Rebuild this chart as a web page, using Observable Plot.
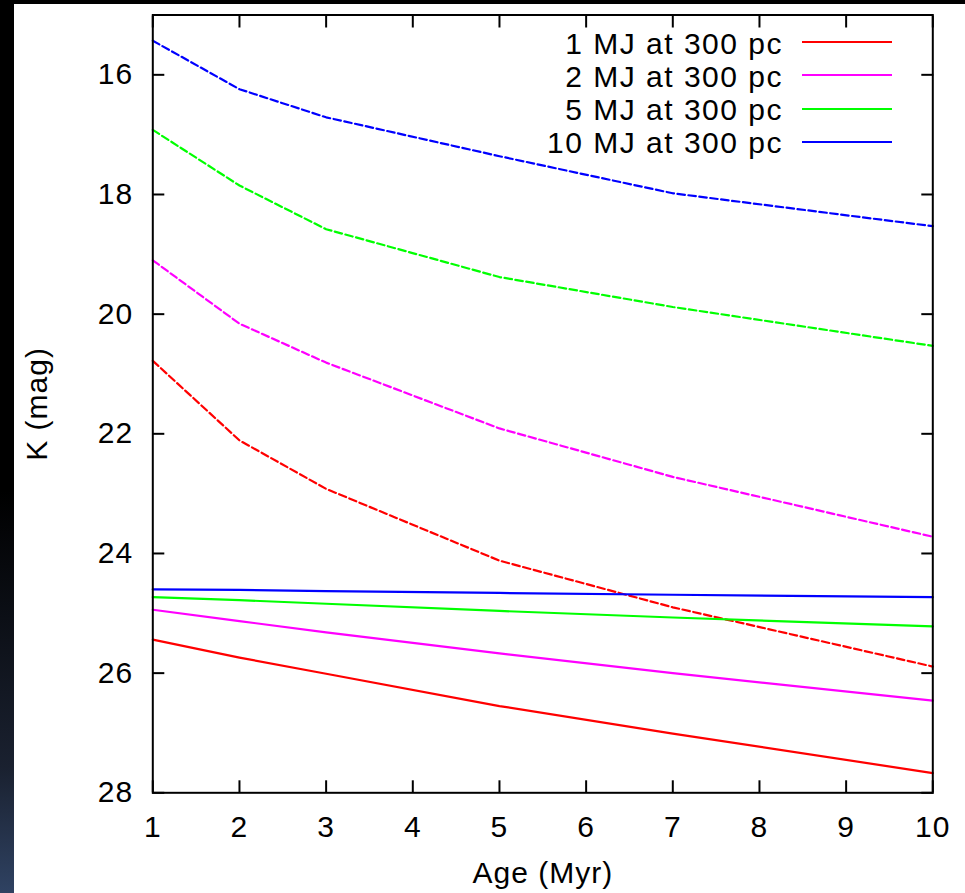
<!DOCTYPE html>
<html>
<head>
<meta charset="utf-8">
<script src="https://cdn.jsdelivr.net/npm/d3@7"></script>
<script src="https://cdn.jsdelivr.net/npm/@observablehq/plot@0.6"></script>
<style>
  body { margin: 0; background: #000; }
  #page { position: relative; width: 965px; height: 893px; overflow: hidden; background: #000; }
  #strip { position: absolute; left: 0; top: 0; width: 14px; height: 893px;
    background: linear-gradient(to bottom, #000 0%, #000 55%, #1a2130 86%, #2f4262 100%); }
  #panel { position: absolute; left: 14px; top: 4px; width: 951px; height: 889px; background: #fff; }
  .lg-text { position: absolute; font-family: 'Liberation Sans', Arial, sans-serif; font-size: 30px;
    line-height: 30px; letter-spacing: 1.5px; color: #000; white-space: nowrap; text-align: right; }
  .lg-line { position: absolute; height: 2px; }
</style>
</head>
<body>
<div id="page">
  <div id="strip"></div>
  <div id="panel"></div>
</div>
<script>
// ---- data ----
const ages = [1, 2, 3, 5, 7, 10];

// dashed curves
const dashed1MJ  = [20.78, 22.11, 22.92, 24.12, 24.90, 25.89];
const dashed2MJ  = [19.10, 20.16, 20.81, 21.91, 22.72, 23.72];
const dashed5MJ  = [16.92, 17.85, 18.58, 19.38, 19.88, 20.53];
const dashed10MJ = [15.43, 16.24, 16.71, 17.36, 17.98, 18.53];

// solid curves
const solid1MJ  = [25.44, 25.74, 26.01, 26.55, 27.01, 27.67];
const solid2MJ  = [24.94, 25.13, 25.32, 25.67, 26.00, 26.46];
const solid5MJ  = [24.73, 24.78, 24.84, 24.96, 25.07, 25.22];
const solid10MJ = [24.60, 24.61, 24.63, 24.66, 24.69, 24.73];

const seriesLabels = ["1 MJ at 300 pc", "2 MJ at 300 pc", "5 MJ at 300 pc", "10 MJ at 300 pc"];
const seriesColors = ["#ff0000", "#ff00ff", "#00ff00", "#0000ff"];

const xTicks = [1, 2, 3, 4, 5, 6, 7, 8, 9, 10];
const yTicks = [16, 18, 20, 22, 24, 26, 28];

// ---- build tables ----
const dashedSets = [dashed1MJ, dashed2MJ, dashed5MJ, dashed10MJ];
const solidSets = [solid1MJ, solid2MJ, solid5MJ, solid10MJ];
const toRows = (vals) => ages.map((a, i) => ({age: a, k: vals[i]}));

const lineMarks = [];
dashedSets.forEach((vals, s) => {
  lineMarks.push(Plot.line(toRows(vals), {x: "age", y: "k", stroke: seriesColors[s], strokeWidth: 2.2, strokeDasharray: "7.5,3.5"}));
});
solidSets.forEach((vals, s) => {
  lineMarks.push(Plot.line(toRows(vals), {x: "age", y: "k", stroke: seriesColors[s], strokeWidth: 2.2}));
});

const fmt = d3.format("d");

const chart = Plot.plot({
  width: 951,
  height: 889,
  marginLeft: 138.3,
  marginRight: 32.7,
  marginTop: 10.5,
  marginBottom: 100.7,
  style: {background: "#fff", fontFamily: "'Liberation Sans', Arial, sans-serif", fontSize: "30px", color: "#000", letterSpacing: "1px"},
  x: {domain: [1, 10], ticks: xTicks, tickFormat: fmt},
  y: {domain: [15, 28], reverse: true, ticks: yTicks, tickFormat: fmt},
  marks: [
    ...lineMarks,
    Plot.axisX(xTicks, {anchor: "bottom", tickSize: -12, tickPadding: 34.7, strokeWidth: 2, tickFormat: fmt,
      label: "Age (Myr)", labelAnchor: "center", labelOffset: 89.7, labelArrow: false}),
    Plot.axisX(xTicks, {anchor: "top", tickSize: -12, strokeWidth: 2, fill: "none", label: null}),
    Plot.axisY(yTicks, {anchor: "left", tickSize: -12, tickPadding: 31.6, strokeWidth: 2, tickFormat: fmt,
      label: "K (mag)", labelAnchor: "center", labelOffset: 127, labelArrow: false}),
    Plot.axisY(yTicks, {anchor: "right", tickSize: -12, strokeWidth: 2, fill: "none", label: null}),
    Plot.frame({stroke: "#000", strokeWidth: 2})
  ]
});
document.getElementById("panel").appendChild(chart);

// ---- legend (inside plot area, top right) ----
const page = document.getElementById("page");
seriesLabels.forEach((lab, i) => {
  const cy = 42.3 + 33.1 * i;
  const t = document.createElement("div");
  t.className = "lg-text";
  t.textContent = lab;
  t.style.right = (965 - 783) + "px";
  t.style.top = (cy - 13.5) + "px";
  page.appendChild(t);
  const l = document.createElement("div");
  l.className = "lg-line";
  l.style.left = "801.7px";
  l.style.width = "90.6px";
  l.style.top = (cy - 1) + "px";
  l.style.background = seriesColors[i];
  page.appendChild(l);
});
</script>
</body>
</html>
